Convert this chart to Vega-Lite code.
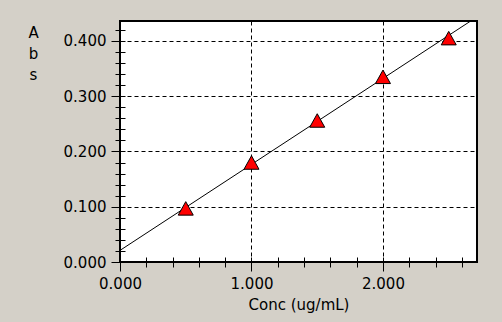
{
  "$schema": "https://vega.github.io/schema/vega-lite/v6.json",
  "width": 357,
  "height": 241,
  "autosize": {"type": "none"},
  "padding": {"left": 120, "top": 21, "right": 25, "bottom": 60},
  "background": "#D4D0C8",
  "config": {
    "view": {"fill": "white", "stroke": "black", "strokeWidth": 2},
    "axis": {
      "labelFont": "DejaVu Sans",
      "labelFontSize": 15,
      "titleFont": "DejaVu Sans",
      "titleFontSize": 15,
      "titleFontWeight": "normal",
      "labelColor": "black",
      "titleColor": "black",
      "tickColor": "black",
      "tickWidth": 1,
      "labelFlush": false,
      "labelOverlap": false,
      "domain": false
    }
  },
  "datasets": {
    "pts": [
      {"conc": 0.5, "abs": 0.097},
      {"conc": 1.0, "abs": 0.180},
      {"conc": 1.5, "abs": 0.256},
      {"conc": 2.0, "abs": 0.335},
      {"conc": 2.5, "abs": 0.405}
    ],
    "fit": [
      {"conc": 0.0, "abs": 0.021},
      {"conc": 2.667, "abs": 0.436}
    ]
  },
  "resolve": {"axis": {"x": "independent", "y": "independent"}},
  "layer": [
    {
      "data": {"name": "fit"},
      "mark": {"type": "line", "color": "black", "strokeWidth": 1},
      "encoding": {
        "x": {
          "field": "conc", "type": "quantitative",
          "scale": {"domain": [0, 2.715], "nice": false, "zero": false},
          "axis": {
            "orient": "bottom", "title": "Conc (ug/mL)", "values": [0, 1, 2], "format": ".3f",
            "offset": -5, "tickSize": 14, "labelPadding": 5, "titlePadding": 6,
            "grid": true, "gridColor": "black", "gridOpacity": 1, "gridDash": [4, 3], "gridWidth": 1
          }
        },
        "y": {
          "field": "abs", "type": "quantitative",
          "scale": {"domain": [0, 0.436], "nice": false, "zero": false},
          "axis": {
            "orient": "left", "title": ["A", "b", "s"], "values": [0, 0.1, 0.2, 0.3, 0.4], "format": ".3f",
            "offset": -5, "tickSize": 14, "labelPadding": 5,
            "titleAngle": 0, "titleAlign": "center", "titleBaseline": "alphabetic",
            "titleX": -92, "titleY": 16, "titleLineHeight": 21,
            "grid": true, "gridColor": "black", "gridOpacity": 1, "gridDash": [4, 3], "gridWidth": 1
          }
        }
      }
    },
    {
      "data": {"name": "pts"},
      "mark": {"type": "point", "shape": "M0,-0.9L1,0.9L-1,0.9Z", "size": 225, "filled": true, "fill": "#FF0000", "stroke": "black", "strokeWidth": 1, "opacity": 1},
      "encoding": {
        "x": {
          "field": "conc", "type": "quantitative",
          "axis": {
            "orient": "bottom", "title": null, "labels": false, "grid": false,
            "values": [0.2, 0.4, 0.6, 0.8, 1.2, 1.4, 1.6, 1.8, 2.2, 2.4, 2.6],
            "offset": -5, "tickSize": 10
          }
        },
        "y": {
          "field": "abs", "type": "quantitative",
          "axis": {
            "orient": "left", "title": null, "labels": false, "grid": false,
            "values": [0.02, 0.04, 0.06, 0.08, 0.12, 0.14, 0.16, 0.18, 0.22, 0.24, 0.26, 0.28, 0.32, 0.34, 0.36, 0.38, 0.42],
            "offset": -5, "tickSize": 10
          }
        }
      }
    }
  ]
}
